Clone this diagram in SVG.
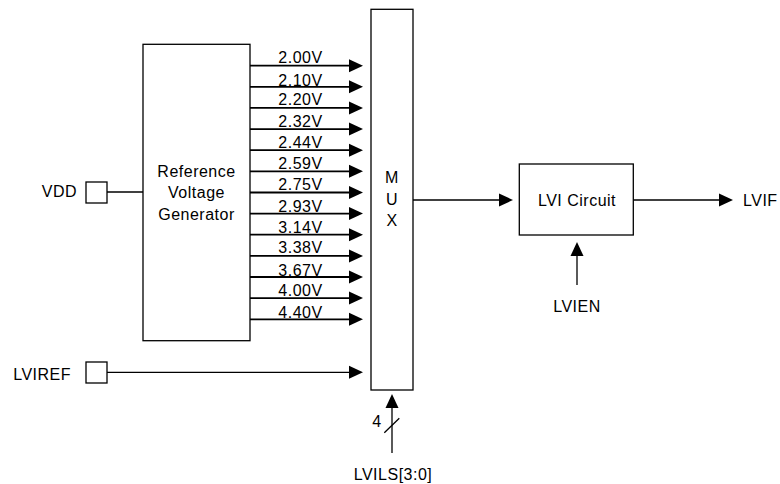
<svg xmlns="http://www.w3.org/2000/svg" width="780" height="484" viewBox="0 0 780 484">
<style>
text{font-family:"Liberation Sans",Arial,sans-serif;font-size:16px;fill:#000;letter-spacing:0.5px}
.c{text-anchor:middle}
.e{text-anchor:end}
.box{fill:#fff;stroke:#000;stroke-width:1.3}
.w{fill:none;stroke:#000;stroke-width:1.3}
.b{fill:none;stroke:#000;stroke-width:1.8}
</style>
<defs>
<marker id="ah" markerUnits="userSpaceOnUse" markerWidth="15" markerHeight="14" refX="0" refY="6.5" orient="auto" overflow="visible">
<path d="M0,0 L14,6.5 L0,13 Z" fill="#000"/>
</marker>
</defs>
<rect width="780" height="484" fill="#fff"/>

<g id="connectors">
<path class="w" d="M107,192 H143"/>
<path class="b" marker-end="url(#ah)" d="M250,65.7 H349"/>
<path class="b" marker-end="url(#ah)" d="M250,86.8 H349"/>
<path class="b" marker-end="url(#ah)" d="M250,107.9 H349"/>
<path class="b" marker-end="url(#ah)" d="M250,129.1 H349"/>
<path class="b" marker-end="url(#ah)" d="M250,150.2 H349"/>
<path class="b" marker-end="url(#ah)" d="M250,171.3 H349"/>
<path class="b" marker-end="url(#ah)" d="M250,192.5 H349"/>
<path class="b" marker-end="url(#ah)" d="M250,213.6 H349"/>
<path class="b" marker-end="url(#ah)" d="M250,234.7 H349"/>
<path class="b" marker-end="url(#ah)" d="M250,255.9 H349"/>
<path class="b" marker-end="url(#ah)" d="M250,277 H349"/>
<path class="b" marker-end="url(#ah)" d="M250,298.1 H349"/>
<path class="b" marker-end="url(#ah)" d="M250,319.3 H349"/>
<path class="w" marker-end="url(#ah)" d="M107,372.3 H349"/>
<path class="w" marker-end="url(#ah)" d="M413,200 H499"/>
<path class="w" marker-end="url(#ah)" d="M633,200 H719"/>
<path class="w" marker-end="url(#ah)" d="M577,285 V256"/>
<path class="w" marker-end="url(#ah)" d="M392,453 V408"/>
<path class="w" d="M384.3,432.7 L399.3,418.3"/>
</g>

<g id="labels">
<text class="c" x="300.5" y="63">2.00V</text>
<text class="c" x="300.5" y="85.5">2.10V</text>
<text class="c" x="300.5" y="104.5">2.20V</text>
<text class="c" x="300.5" y="126.5">2.32V</text>
<text class="c" x="300.5" y="148">2.44V</text>
<text class="c" x="300.5" y="169">2.59V</text>
<text class="c" x="300.5" y="190">2.75V</text>
<text class="c" x="300.5" y="211.7">2.93V</text>
<text class="c" x="300.5" y="232.7">3.14V</text>
<text class="c" x="300.5" y="253.3">3.38V</text>
<text class="c" x="300.5" y="275.7">3.67V</text>
<text class="c" x="300.5" y="296">4.00V</text>
<text class="c" x="300.5" y="318.3">4.40V</text>
<text class="c" x="377" y="427">4</text>
</g>

<g id="vdd">
<rect class="box" x="86" y="182" width="21" height="21"/>
<text class="e" x="77" y="197.3">VDD</text>
</g>

<g id="lviref">
<rect class="box" x="86" y="362" width="21" height="21"/>
<text class="e" x="71" y="380">LVIREF</text>
</g>

<g id="refgen">
<rect class="box" x="143" y="44.3" width="107" height="296.4"/>
<text class="c" x="196.5" y="177.3">Reference</text>
<text class="c" x="196.5" y="198.3">Voltage</text>
<text class="c" x="196.5" y="220">Generator</text>
</g>

<g id="mux">
<rect class="box" x="371" y="9.3" width="42" height="380.7"/>
<text class="c" x="392" y="183.3">M</text>
<text class="c" x="392" y="205">U</text>
<text class="c" x="392" y="225.7">X</text>
</g>

<g id="lvicircuit">
<rect class="box" x="519.3" y="164" width="114" height="71"/>
<text class="c" x="577" y="205.7">LVI Circuit</text>
</g>

<g id="lvif">
<text x="743" y="205.7">LVIF</text>
</g>

<g id="lvien">
<text class="c" x="577" y="311.7">LVIEN</text>
</g>

<g id="lvils">
<text class="c" x="393" y="480">LVILS[3:0]</text>
</g>
</svg>
